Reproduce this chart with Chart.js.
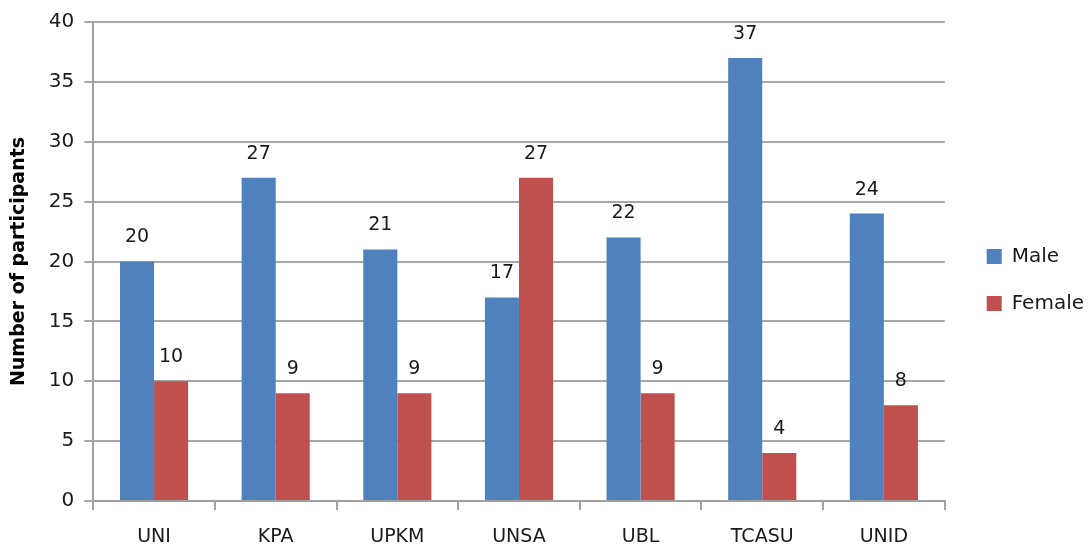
<!DOCTYPE html>
<html>
<head>
<meta charset="utf-8">
<script src="https://cdn.jsdelivr.net/npm/chart.js@4.4.1/dist/chart.umd.min.js"></script>
<style>
  body { margin: 0; background: #fff; }
  #wrap { width: 1091px; height: 546px; position: relative; }
</style>
</head>
<body>
<div id="wrap"><canvas id="bar-chart"></canvas></div>
<script>
var categories = ["UNI", "KPA", "UPKM", "UNSA", "UBL", "TCASU", "UNID"];
var maleValues = [20, 27, 21, 17, 22, 37, 24];
var femaleValues = [10, 9, 9, 27, 9, 4, 8];
var yTicks = [0, 5, 10, 15, 20, 25, 30, 35, 40];

// draws the value above each bar
var valueLabels = {
  id: 'valueLabels',
  afterDatasetsDraw: function(chart) {
    var ctx = chart.ctx;
    ctx.save();
    ctx.font = '19px "DejaVu Sans", sans-serif';
    ctx.fillStyle = '#1a1a1a';
    ctx.textAlign = 'center';
    ctx.textBaseline = 'middle';
    chart.data.datasets.forEach(function(ds, i) {
      chart.getDatasetMeta(i).data.forEach(function(bar, j) {
        ctx.fillText(ds.data[j], bar.x, bar.y - 24);
      });
    });
    ctx.restore();
  }
};

// pushes the legend a bit further right, away from the plot
var legendShift = {
  id: 'legendShift',
  afterLayout: function(chart) {
    chart.legend.left += 15;
    chart.legend.right += 15;
  }
};

var myChart = new Chart(document.getElementById('bar-chart'), {
  type: 'bar',
  data: {
    labels: categories,
    datasets: [
      { label: 'Male', data: maleValues, backgroundColor: '#4F81BD' },
      { label: 'Female', data: femaleValues, backgroundColor: '#C0504D' }
    ]
  },
  options: {
    responsive: true,
    maintainAspectRatio: false,
    animation: false,
    layout: { padding: { top: 14, right: 12, bottom: 0, left: 8 } },
    datasets: { bar: { categoryPercentage: 0.56, barPercentage: 1 } },
    plugins: {
      legend: {
        position: 'right',
        labels: {
          boxWidth: 15, boxHeight: 15, padding: 27,
          color: '#1a1a1a',
          font: { family: '"DejaVu Sans", sans-serif', size: 20 }
        }
      },
      tooltip: { enabled: false }
    },
    scales: {
      x: {
        afterFit: function(axis) { axis.height = 45; },
        grid: { offset: true, drawOnChartArea: false, color: '#a0a0a0', tickLength: 9, lineWidth: 2 },
        border: { color: '#a0a0a0', width: 2 },
        ticks: { color: '#1a1a1a', padding: 18, font: { family: '"DejaVu Sans", sans-serif', size: 19, lineHeight: 1 } }
      },
      y: {
        min: 0, max: 40,
        afterBuildTicks: function(axis) { axis.ticks = yTicks.map(function(v) { return { value: v }; }); },
        grid: { color: '#a6a6a6', tickLength: 9, lineWidth: 2 },
        border: { color: '#a0a0a0', width: 2 },
        ticks: { color: '#1a1a1a', padding: 10, font: { family: '"DejaVu Sans", sans-serif', size: 20 } },
        title: {
          display: true, text: 'Number of participants', color: '#000', padding: { top: 0, bottom: 8 },
          font: { family: '"DejaVu Sans", sans-serif', size: 19, weight: 'bold' }
        }
      }
    }
  },
  plugins: [valueLabels, legendShift]
});
</script>
</body>
</html>
